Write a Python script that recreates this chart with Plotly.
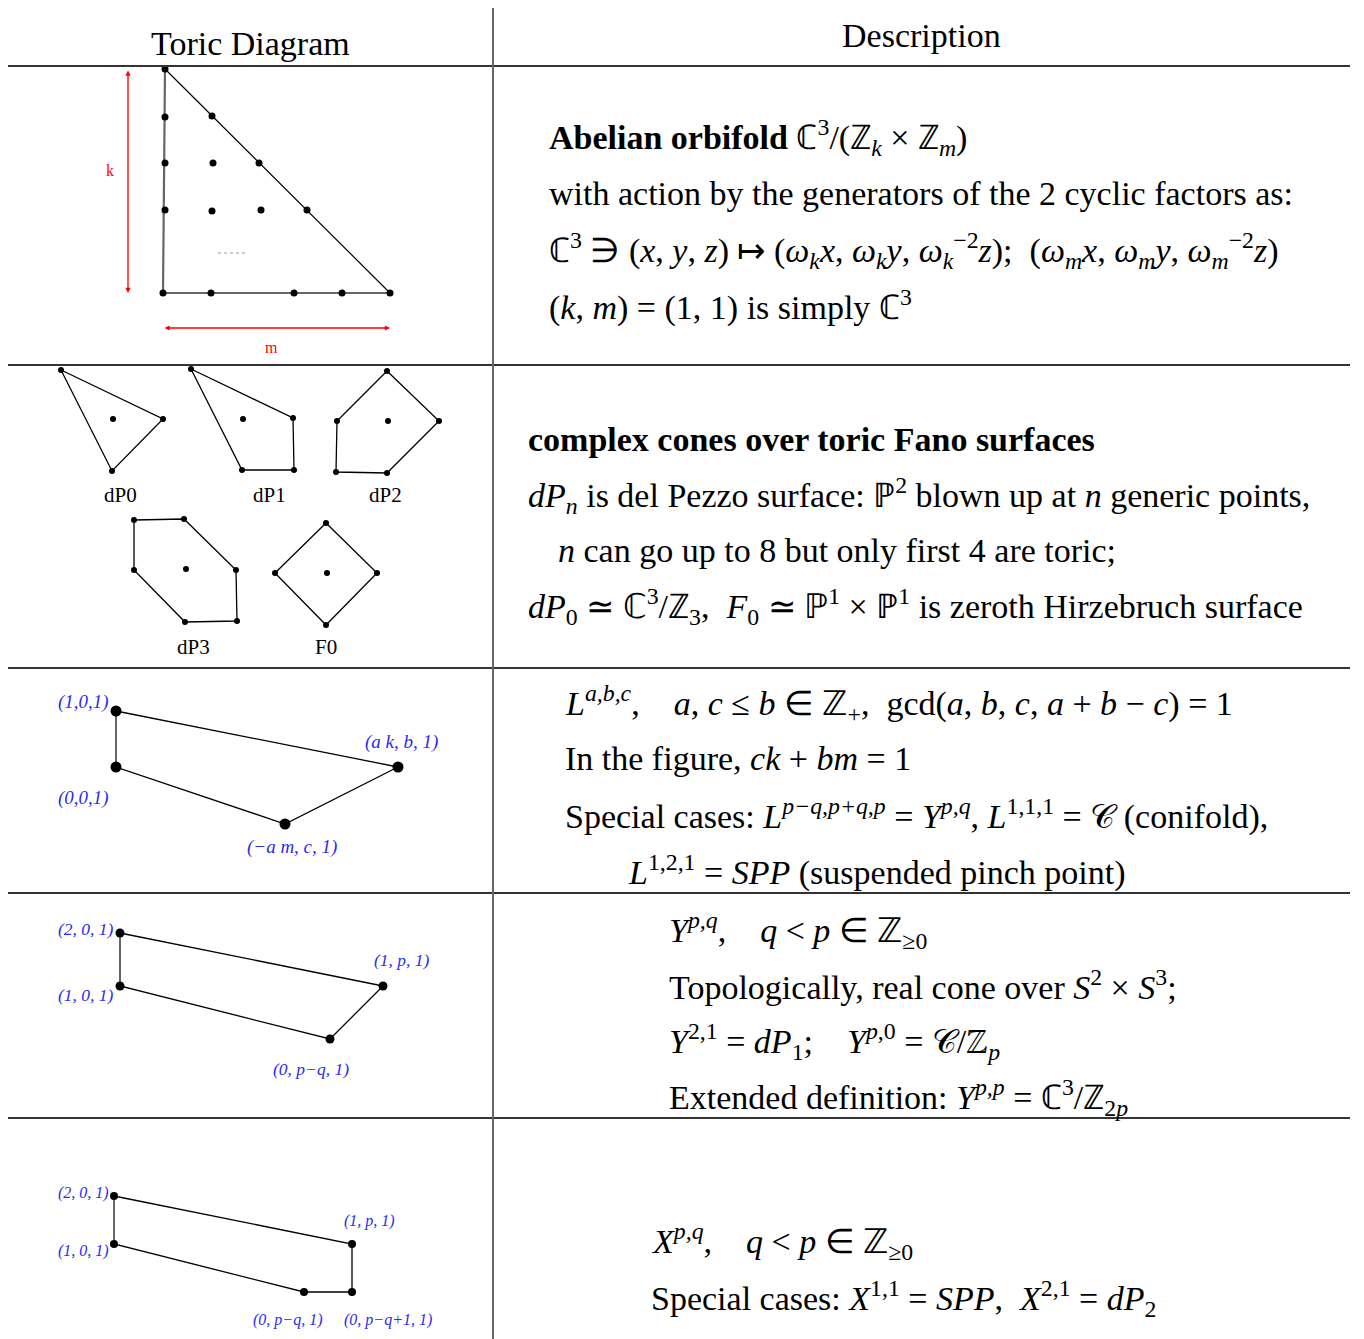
import plotly.graph_objects as go

W, H = 1364, 1339
PAGE_PAD = 8  # the browser's default body margin
SERIF = "Liberation Serif, Times New Roman, serif"
NB = "\u00a0"

# ---- table frame ----
rule_y = [66, 365, 668, 893, 1118]
rule_x0, rule_x1 = 7, 1350
col_x = 493
headers = ["Toric Diagram", "Description"]
header_x = [250, 921]
header_y = [43, 35]

# ---- row 1: abelian orbifold triangle ----
tri_x = [165, 163, 390, 165]
tri_y = [69, 293, 293, 69]
tri_pts_x = [165, 165, 212, 165, 213, 259, 165, 212, 261, 307, 163, 211, 294, 342, 390]
tri_pts_y = [69, 117, 116, 163, 163, 163, 210, 211, 210, 210, 293, 293, 293, 293, 293]
dots_x = [218, 247]
dots_y = [253, 253]
k_arrow = [128, 69, 128, 293]
m_arrow = [163, 328, 390, 328]
km_labels = ["k", "m"]
km_label_x = [110, 271]
km_label_y = [170, 347]

# ---- row 2: del Pezzo / F0 polygons ----
fano_names = ["dP0", "dP1", "dP2", "dP3", "F0"]
fano_x = [
    [61, 163, 112],
    [191, 293, 294, 242],
    [387, 439, 387, 336, 337],
    [134, 184, 236, 237, 185, 134],
    [326, 377, 326, 275],
]
fano_y = [
    [370, 419, 471],
    [369, 418, 470, 470],
    [371, 421, 473, 472, 421],
    [520, 519, 570, 621, 622, 570],
    [523, 573, 625, 573],
]
fano_center_x = [113, 243, 388, 186, 327]
fano_center_y = [419, 419, 421, 569, 573]
fano_label_x = [120, 269, 385, 193, 326]
fano_label_y = [495, 495, 495, 647, 647]

# ---- rows 3-5: L^{abc}, Y^{pq}, X^{pq} ----
poly_x = [
    [116, 116, 285, 398],
    [120, 120, 330, 383],
    [114, 114, 304, 352, 352],
]
poly_y = [
    [711, 767, 824, 767],
    [933, 986, 1039, 986],
    [1196, 1244, 1292, 1292, 1244],
]
poly_labels = [
    ["(1,0,1)", "(0,0,1)", "(\u2212a m, c, 1)", "(a k, b, 1)"],
    ["(2, 0, 1)", "(1, 0, 1)", "(0, p\u2212q, 1)", "(1, p, 1)"],
    ["(2, 0, 1)", "(1, 0, 1)", "(0, p\u2212q, 1)", "(0, p\u2212q+1, 1)", "(1, p, 1)"],
]
poly_label_x = [
    [83, 83, 292, 401],
    [86, 86, 311, 402],
    [83, 83, 287, 388, 369],
]
poly_label_y = [
    [702, 798, 847, 742],
    [929, 995, 1069, 960],
    [1193, 1251, 1320, 1320, 1221],
]
poly_marker = [11, 9, 8]
poly_font = [19, 17.5, 16]

# ---- description text ----
desc_lines = [
    [
        "<b>Abelian orbifold</b> \u2102<sup>3</sup>/(\u2124<sub><i>k</i></sub> \u00d7 \u2124<sub><i>m</i></sub>)",
        "with action by the generators of the 2 cyclic factors as:",
        "\u2102<sup>3</sup> \u220b (<i>x</i>, <i>y</i>, <i>z</i>) \u21a6 (<i>\u03c9</i><sub><i>k</i></sub><i>x</i>, <i>\u03c9</i><sub><i>k</i></sub><i>y</i>, <i>\u03c9</i><sub><i>k</i></sub><sup>\u22122</sup><i>z</i>);"
        + NB * 2 + "(<i>\u03c9</i><sub><i>m</i></sub><i>x</i>, <i>\u03c9</i><sub><i>m</i></sub><i>y</i>, <i>\u03c9</i><sub><i>m</i></sub><sup>\u22122</sup><i>z</i>)",
        "(<i>k</i>, <i>m</i>) = (1, 1) is simply \u2102<sup>3</sup>",
    ],
    [
        "<b>complex cones over toric Fano surfaces</b>",
        "<i>dP</i><sub><i>n</i></sub> is del Pezzo surface: \u2119<sup>2</sup> blown up at <i>n</i> generic points,",
        "<i>n</i> can go up to 8 but only first 4 are toric;",
        "<i>dP</i><sub>0</sub> \u2243 \u2102<sup>3</sup>/\u2124<sub>3</sub>," + NB * 2
        + "<i>F</i><sub>0</sub> \u2243 \u2119<sup>1</sup> \u00d7 \u2119<sup>1</sup> is zeroth Hirzebruch surface",
    ],
    [
        "<i>L</i><sup><i>a,b,c</i></sup>," + NB * 4 + "<i>a</i>, <i>c</i> \u2264 <i>b</i> \u2208 \u2124<sub>+</sub>," + NB * 2
        + "gcd(<i>a</i>, <i>b</i>, <i>c</i>, <i>a</i> + <i>b</i> \u2212 <i>c</i>) = 1",
        "In the figure, <i>ck</i> + <i>bm</i> = 1",
        "Special cases: <i>L</i><sup><i>p\u2212q,p+q,p</i></sup> = <i>Y</i><sup><i>p,q</i></sup>, <i>L</i><sup>1,1,1</sup> = \U0001d49e (conifold),",
        "<i>L</i><sup>1,2,1</sup> = <i>SPP</i> (suspended pinch point)",
    ],
    [
        "<i>Y</i><sup><i>p,q</i></sup>," + NB * 4 + "<i>q</i> &lt; <i>p</i> \u2208 \u2124<sub>\u22650</sub>",
        "Topologically, real cone over <i>S</i><sup>2</sup> \u00d7 <i>S</i><sup>3</sup>;",
        "<i>Y</i><sup>2,1</sup> = <i>dP</i><sub>1</sub>;" + NB * 4 + "<i>Y</i><sup><i>p</i>,0</sup> = \U0001d49e/\u2124<sub><i>p</i></sub>",
        "Extended definition: <i>Y</i><sup><i>p,p</i></sup> = \u2102<sup>3</sup>/\u2124<sub>2<i>p</i></sub>",
    ],
    [
        "<i>X</i><sup><i>p,q</i></sup>," + NB * 4 + "<i>q</i> &lt; <i>p</i> \u2208 \u2124<sub>\u22650</sub>",
        "Special cases: <i>X</i><sup>1,1</sup> = <i>SPP</i>," + NB * 2 + "<i>X</i><sup>2,1</sup> = <i>dP</i><sub>2</sub>",
    ],
]
desc_x = [
    [547, 547, 547, 547],
    [526, 526, 556, 526],
    [563, 563, 563, 626],
    [667, 667, 667, 667],
    [649, 649],
]
desc_y = [
    [137, 193, 250, 305],
    [439, 495, 550, 606],
    [703, 758, 814, 870],
    [930, 985, 1041, 1097],
    [1241, 1298],
]

fig = go.Figure()
annotations = []


def add_path(xs, ys, color="black", width=1.3, dash=None):
    fig.add_trace(go.Scatter(x=xs, y=ys, mode="lines", hoverinfo="skip",
                             line=dict(color=color, width=width, dash=dash)))


def add_points(xs, ys, size):
    fig.add_trace(go.Scatter(x=xs, y=ys, mode="markers", hoverinfo="skip",
                             marker=dict(color="black", size=size)))


def text(x, y, s, size, color="black", anchor="center", italic=False):
    if italic:
        s = "<i>" + s + "</i>"
    annotations.append(dict(x=x, y=y, xref="x", yref="y", text=s, showarrow=False,
                            xanchor=anchor, yanchor="middle",
                            font=dict(family=SERIF, size=size, color=color)))


# table rules
shapes = []
for y in rule_y:
    shapes.append(dict(type="line", x0=rule_x0, x1=rule_x1, y0=y, y1=y, xref="x", yref="y",
                       line=dict(color="#333333", width=2)))
shapes.append(dict(type="line", x0=col_x, x1=col_x, y0=3, y1=H, xref="x", yref="y",
                   line=dict(color="#666666", width=2)))

for s, x, y in zip(headers, header_x, header_y):
    text(x, y, s, 34)

# row 1
add_path(tri_x[:3], tri_y[:3], color="#666666", width=2.2)
add_path([tri_x[2], tri_x[3]], [tri_y[2], tri_y[3]], color="black", width=1.2)
add_path(dots_x, dots_y, color="#999999", width=1, dash="dot")
add_points(tri_pts_x, tri_pts_y, 7)
for x0, y0, x1, y1 in [k_arrow, m_arrow]:
    annotations.append(dict(x=x1, y=y1, ax=x0, ay=y0, xref="x", yref="y", axref="x", ayref="y",
                            text="", showarrow=True, arrowhead=2, arrowside="end+start",
                            arrowsize=0.8, arrowwidth=1.3, arrowcolor="red"))
for s, x, y in zip(km_labels, km_label_x, km_label_y):
    text(x, y, s, 16, color="red")

# row 2
for xs, ys, cx, cy, name, lx, ly in zip(fano_x, fano_y, fano_center_x, fano_center_y,
                                        fano_names, fano_label_x, fano_label_y):
    add_path(xs + xs[:1], ys + ys[:1], width=1.3)
    add_points(xs + [cx], ys + [cy], 6)
    text(lx, ly, name, 21)

# rows 3-5
for xs, ys, labs, lxs, lys, ms, fs in zip(poly_x, poly_y, poly_labels, poly_label_x,
                                          poly_label_y, poly_marker, poly_font):
    add_path(xs + xs[:1], ys + ys[:1], width=1.3)
    add_path(xs[:2], ys[:2], color="#666666", width=2)
    add_points(xs, ys, ms)
    for s, x, y in zip(labs, lxs, lys):
        text(x, y, s, fs, color="#2b2bf0", italic=True)

# description
for lines, xs, ys in zip(desc_lines, desc_x, desc_y):
    for s, x, y in zip(lines, xs, ys):
        text(x, y, s, 34, anchor="left")

# axis ranges shifted by the page margin so data units equal screen pixels
fig.update_layout(
    width=W, height=H, margin=dict(l=0, r=0, t=0, b=0),
    paper_bgcolor="white", plot_bgcolor="white", showlegend=False,
    xaxis=dict(range=[PAGE_PAD, W + PAGE_PAD], visible=False, fixedrange=True),
    yaxis=dict(range=[H + PAGE_PAD, PAGE_PAD], visible=False, fixedrange=True),
    shapes=shapes, annotations=annotations,
)
fig.write_html("out.html")
